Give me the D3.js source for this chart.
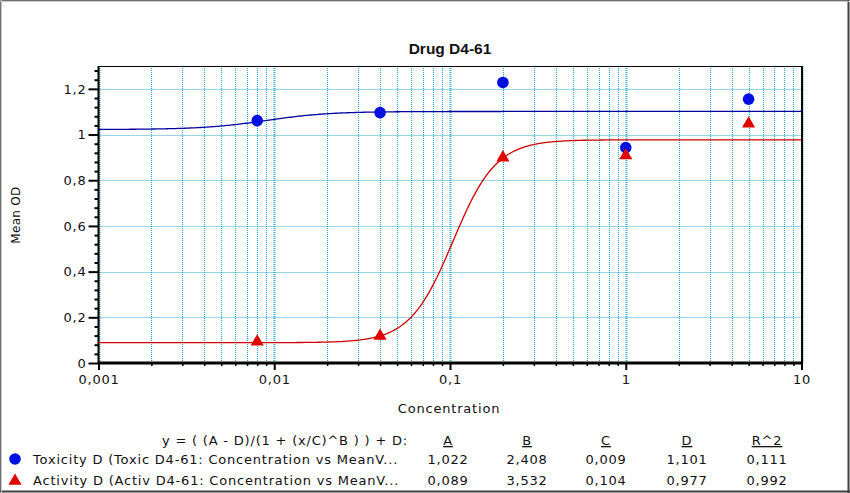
<!DOCTYPE html>
<html><head><meta charset="utf-8">
<script src="https://cdn.jsdelivr.net/npm/d3@7/dist/d3.min.js"></script>
<style>
html,body{margin:0;padding:0;background:#fff;}
svg{display:block;}
text{font-family:"DejaVu Sans",Verdana,sans-serif;fill:#111;}
</style></head>
<body><svg id="c" width="850" height="493"></svg>
<script>
// ---- data ----
const title = "Drug D4-61";
const xLabel = "Concentration";
const yLabel = "Mean OD";
const concentrations = [0.008, 0.04, 0.2, 1, 5];
const toxicityOD = [1.061, 1.096, 1.228, 0.943, 1.155];
const activityOD = [0.093, 0.118, 0.899, 0.908, 1.047];
const seriesNames = ["Toxicity D (Toxic D4-61: Concentration vs MeanV...", "Activity D (Activ D4-61: Concentration vs MeanV..."];
const formulaText = "y = ( (A - D)/(1 + (x/C)^B ) ) + D:";
const paramNames = ["A", "B", "C", "D", "R^2"];
const toxParams = [1.022, 2.408, 0.009, 1.101, 0.111];
const actParams = [0.089, 3.532, 0.104, 0.977, 0.992];
const xTickLabels = ["0,001", "0,01", "0,1", "1", "10"];
const yTickValues = [0, 0.2, 0.4, 0.6, 0.8, 1, 1.2];

// ---- layout ----
const svg = d3.select("#c");
const L = 98.5, R = 801.5, T = 66, B = 363;
const x = d3.scaleLog().domain([0.001, 10]).range([L, R]);
const y = d3.scaleLinear().domain([0, 1.3]).range([B, T]);
const fmt = v => d3.format(".3f")(v).replace(".", ",");
const yFmt = v => (v === 0 ? "0" : d3.format("")(+v.toFixed(1))).replace(".", ",");
const FS = "13px", LS = "0.8px";

// outer frame
svg.append("rect").attr("x",0.5).attr("y",0.5).attr("width",848).attr("height",491)
  .attr("fill","#fff").attr("stroke","#707070").attr("stroke-width",1);
svg.append("line").attr("x1",848.5).attr("x2",848.5).attr("y1",0).attr("y2",493).attr("stroke","#404040").attr("stroke-width",2);
svg.append("line").attr("x1",0).attr("x2",850).attr("y1",491.5).attr("y2",491.5).attr("stroke","#404040").attr("stroke-width",2);
svg.append("line").attr("x1",1.5).attr("x2",1.5).attr("y1",0).attr("y2",493).attr("stroke","#c8c8c8").attr("stroke-width",1);
svg.append("line").attr("x1",0).attr("x2",850).attr("y1",1.5).attr("y2",1.5).attr("stroke","#c8c8c8").attr("stroke-width",1);

// grid
const grid = svg.append("g");
const xGrid = x.ticks();
grid.selectAll("line.vx").data(xGrid).join("line")
  .attr("x1", d => Math.round(x(d)) + 0.5).attr("x2", d => Math.round(x(d)) + 0.5)
  .attr("y1", T).attr("y2", B)
  .attr("stroke", "#2eaac4").attr("stroke-width", d => Math.abs(Math.log10(d) - Math.round(Math.log10(d))) < 1e-9 ? 2 : 1.2)
  .attr("stroke-dasharray", "1,1");
grid.selectAll("line.hy").data(yTickValues.filter(v => v > 0)).join("line")
  .attr("x1", L).attr("x2", R)
  .attr("y1", d => Math.round(y(d)) + 0.5).attr("y2", d => Math.round(y(d)) + 0.5)
  .attr("stroke", "#2eaac4").attr("stroke-width", 1.2).attr("stroke-dasharray", "1,1");

// plot frame top/right
svg.append("line").attr("x1",L).attr("x2",R).attr("y1",T+0.5).attr("y2",T+0.5).attr("stroke","#000").attr("stroke-width",1);
svg.append("line").attr("x1",R+0.5).attr("x2",R+0.5).attr("y1",T).attr("y2",B).attr("stroke","#000").attr("stroke-width",2);

// y axis
const yMinor = d3.range(0, 1.3001, 0.04).filter(v => yTickValues.every(t => Math.abs(t - v) > 1e-6));
const yAxisMinor = d3.axisLeft(y).tickValues(yMinor).tickSize(4).tickFormat("");
const yAxis = d3.axisLeft(y).tickValues(yTickValues).tickSize(10).tickPadding(2).tickFormat(yFmt);
const gyMin = svg.append("g").attr("transform", `translate(${L},0)`).call(yAxisMinor);
gyMin.select(".domain").remove();
gyMin.selectAll("line").attr("stroke","#000").attr("stroke-width",2);
const gy = svg.append("g").attr("transform", `translate(${L},0)`).call(yAxis);
gy.select(".domain").attr("stroke","#000").attr("stroke-width",2).attr("d", `M0,${T}V${B}`);
gy.selectAll(".tick line").attr("stroke","#000").attr("stroke-width",2);
gy.selectAll(".tick text").style("font-family","DejaVu Sans").style("font-size",FS).style("letter-spacing",LS).attr("fill","#222");

// x axis
const xMajor = [0.001, 0.01, 0.1, 1, 10];
const xMinor = xGrid.filter(v => xMajor.every(t => Math.abs(t - v) / t > 1e-6));
const gxMin = svg.append("g").attr("transform", `translate(0,${B})`)
  .call(d3.axisBottom(x).tickValues(xMinor).tickSize(3).tickFormat(""));
gxMin.select(".domain").remove();
gxMin.selectAll("line").attr("stroke","#000").attr("stroke-width",1.5);
const gx = svg.append("g").attr("transform", `translate(0,${B})`)
  .call(d3.axisBottom(x).tickValues(xMajor).tickSize(7).tickPadding(5).tickFormat((d, i) => xTickLabels[i]));
gx.select(".domain").attr("stroke","#000").attr("stroke-width",3).attr("d", `M${L},0H${R+1}`);
gx.selectAll(".tick line").attr("stroke","#000").attr("stroke-width",2);
gx.selectAll(".tick text").style("font-family","DejaVu Sans").style("font-size",FS).style("letter-spacing",LS).attr("fill","#222");

// titles
svg.append("text").attr("x", 450).attr("y", 54).attr("text-anchor","middle")
  .style("font-family","Liberation Sans, Arial").style("font-weight","bold").style("font-size","15.5px").text(title);
svg.append("text").attr("x", 449).attr("y", 413).attr("text-anchor","middle")
  .style("font-size",FS).style("letter-spacing",LS).text(xLabel);
svg.append("text").attr("transform","translate(20,215) rotate(-90)").attr("text-anchor","middle")
  .style("font-size","12px").style("letter-spacing","0.3px").text(yLabel);

// fitted curves from 4PL parameters
const fourPL = p => c => (p[0] - p[3]) / (1 + Math.pow(c / p[2], p[1])) + p[3];
const samples = d3.range(0, 401).map(i => Math.pow(10, -3 + 4 * i / 400));
const line = d3.line().x(d => x(d[0])).y(d => y(d[1]));
const plotG = svg.append("g");
plotG.append("path").datum(samples.map(c => [c, fourPL(toxParams)(c)]))
  .attr("d", line).attr("fill","none").attr("stroke","#0000a0").attr("stroke-width",1.3);
plotG.append("path").datum(samples.map(c => [c, fourPL(actParams)(c)]))
  .attr("d", line).attr("fill","none").attr("stroke","#cc0000").attr("stroke-width",1.3);

// markers
const tri = d3.symbol().type(d3.symbolTriangle).size(75);
plotG.selectAll("circle.tox").data(concentrations).join("circle")
  .attr("cx", d => x(d)).attr("cy", (d, i) => y(toxicityOD[i])).attr("r", 5.8).attr("fill","#0010e0");
plotG.selectAll("path.act").data(concentrations).join("path")
  .attr("d", tri).attr("transform", (d, i) => `translate(${x(d)},${y(activityOD[i])})`).attr("fill","#e00000");

// legend
const lg = svg.append("g").style("font-size",FS).style("letter-spacing",LS);
lg.append("text").attr("x", 408).attr("y", 445).attr("text-anchor","end").text(formulaText);
const colX = [448, 527, 606, 687, 767];
paramNames.forEach((n, i) => {
  lg.append("text").attr("x", colX[i]).attr("y", 445).attr("text-anchor","middle")
    .style("text-decoration","underline").text(n);
});
const rowsY = [464, 485];
[toxParams, actParams].forEach((p, r) => {
  lg.append("text").attr("x", 33).attr("y", rowsY[r]).text(seriesNames[r]);
  p.forEach((v, i) => lg.append("text").attr("x", colX[i]).attr("y", rowsY[r]).attr("text-anchor","middle").text(fmt(v)));
});
lg.append("circle").attr("cx", 15).attr("cy", 459).attr("r", 5.8).attr("fill","#0010e0");
lg.append("path").attr("d", tri).attr("transform","translate(15,481)").attr("fill","#e00000");
</script></body></html>
